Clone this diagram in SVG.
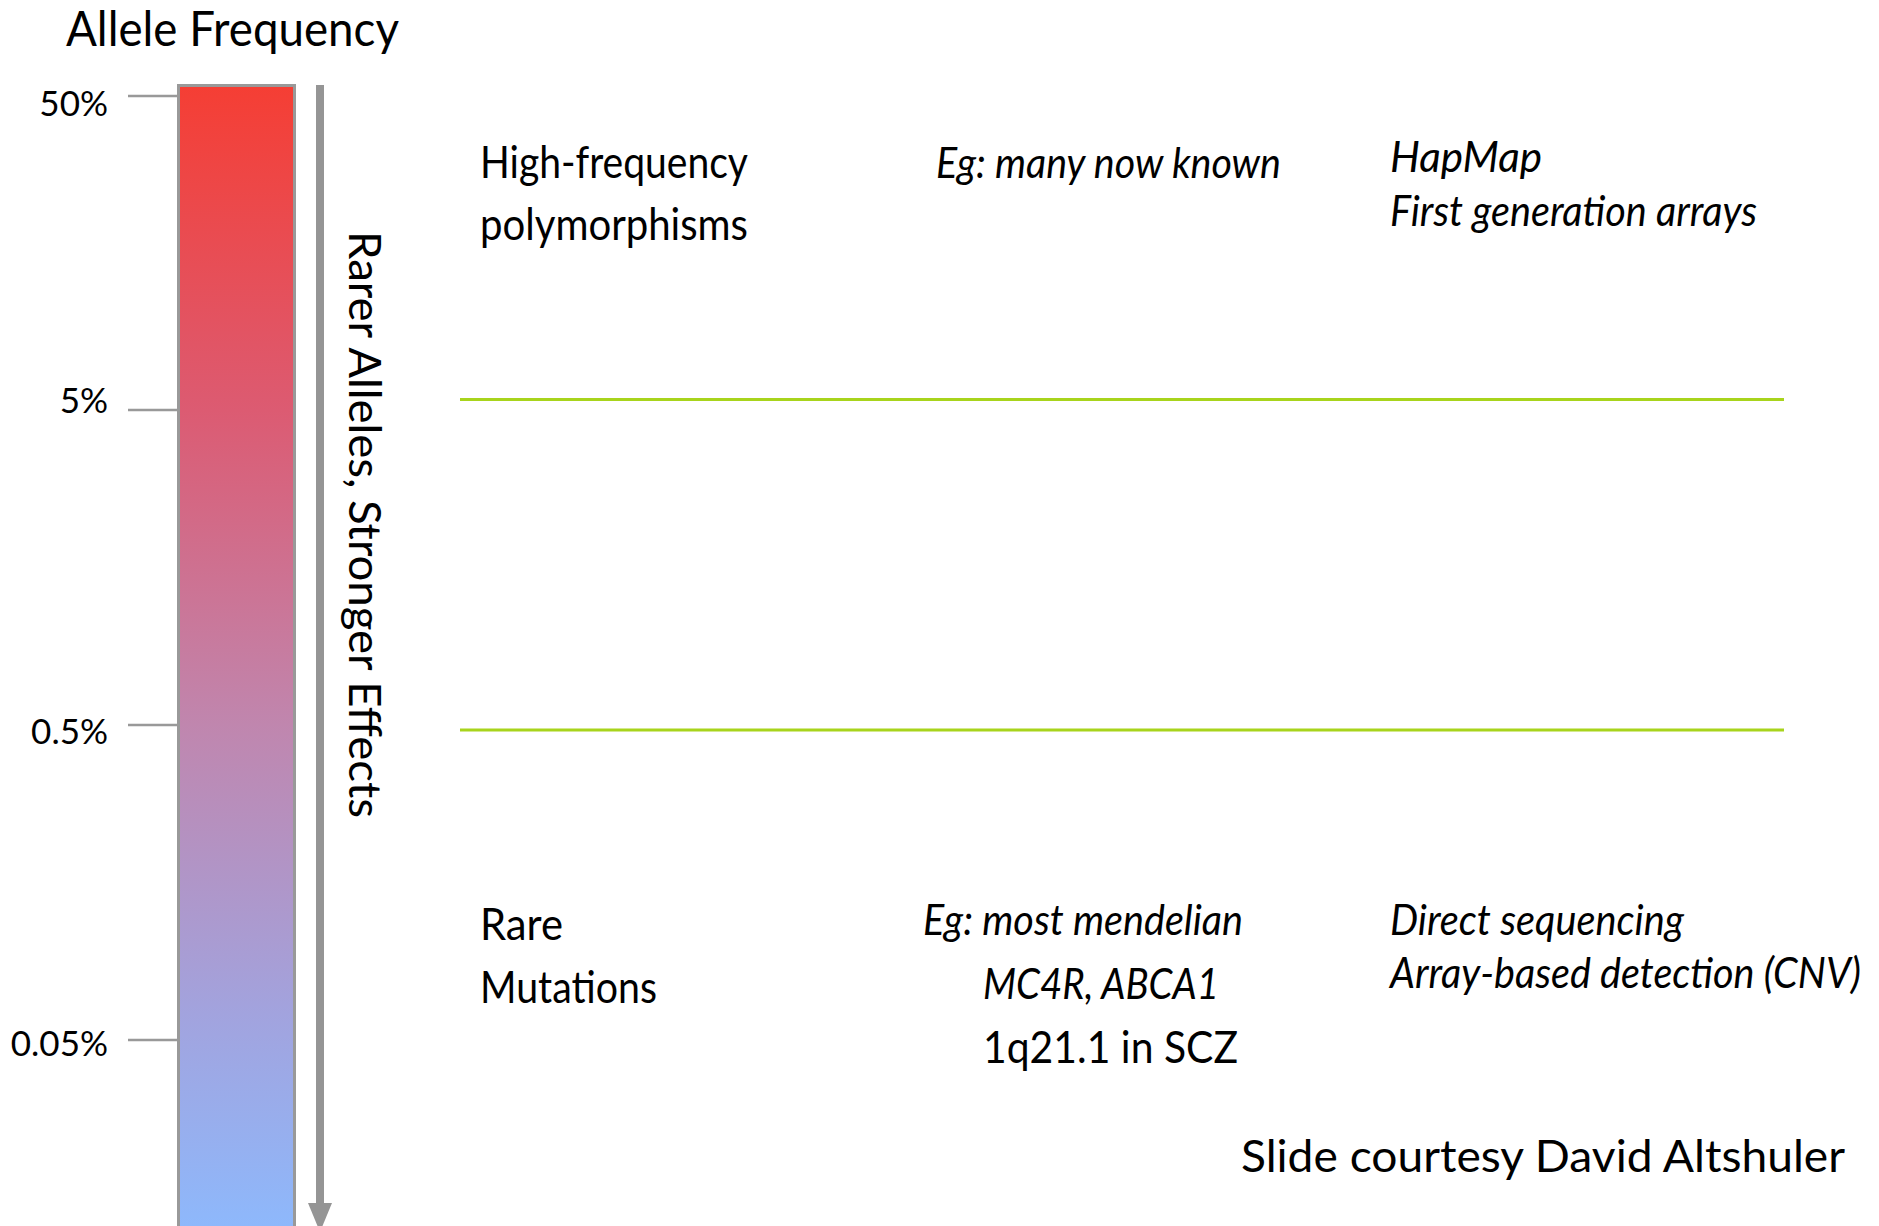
<svg xmlns="http://www.w3.org/2000/svg" width="1879" height="1226" viewBox="0 0 1879 1226">
<style>
text{font-family:Lato,"Open Sans","Liberation Sans",sans-serif;fill:#000}
.t{font-size:44px}
.i{font-size:42px;font-style:italic}
.tick{font-size:35px;text-anchor:end}
.tk{stroke:#999;stroke-width:2.5}
.sep{stroke:#a8d41c;stroke-width:3}
</style>
<defs>
<linearGradient id="g" x1="0" y1="0" x2="0" y2="1">
<stop offset="0" stop-color="#f53e34"/>
<stop offset="0.28" stop-color="#dc5b72"/>
<stop offset="0.55" stop-color="#c086ae"/>
<stop offset="0.8" stop-color="#a2a3de"/>
<stop offset="1" stop-color="#8cbafe"/>
</linearGradient>
</defs>
<g id="title"><text x="66" y="46" style="font-size:48px" textLength="333" lengthAdjust="spacingAndGlyphs">Allele Frequency</text></g>
<g id="scale">
<rect x="178.5" y="85.5" width="116" height="1160" fill="url(#g)" stroke="#999" stroke-width="3"/>
<line class="tk" x1="128" y1="96" x2="177" y2="96"/>
<line class="tk" x1="128" y1="410" x2="177" y2="410"/>
<line class="tk" x1="128" y1="725" x2="177" y2="725"/>
<line class="tk" x1="128" y1="1040" x2="177" y2="1040"/>
<text class="tick" x="108" y="116">50%</text>
<text class="tick" x="108" y="413">5%</text>
<text class="tick" x="108" y="744">0.5%</text>
<text class="tick" x="108" y="1056">0.05%</text>
</g>
<g id="connectors">
<line x1="320" y1="85" x2="320" y2="1206" stroke="#959595" stroke-width="8"/>
<polygon points="308,1203 332,1203 320,1232" fill="#959595"/>
<line class="sep" x1="460" y1="399.5" x2="1784" y2="399.5"/>
<line class="sep" x1="460" y1="730" x2="1784" y2="730"/>
</g>
<g id="axis-label"><text transform="translate(349,231) rotate(90)" style="font-size:44px" textLength="587" lengthAdjust="spacingAndGlyphs">Rarer Alleles, Stronger Effects</text></g>
<g id="common">
<text class="t" x="480" y="178" textLength="268" lengthAdjust="spacingAndGlyphs">High-frequency</text>
<text class="t" x="480" y="240" textLength="268" lengthAdjust="spacingAndGlyphs">polymorphisms</text>
<text class="i" x="936" y="178" textLength="345" lengthAdjust="spacingAndGlyphs">Eg: many now known</text>
<text class="i" x="1390" y="172" textLength="152" lengthAdjust="spacingAndGlyphs">HapMap</text>
<text class="i" x="1390" y="226" textLength="367" lengthAdjust="spacingAndGlyphs">First generation arrays</text>
</g>
<g id="rare">
<text class="t" x="480" y="940" textLength="83" lengthAdjust="spacingAndGlyphs">Rare</text>
<text class="t" x="480" y="1003" textLength="177" lengthAdjust="spacingAndGlyphs">Mutations</text>
<text class="i" x="923" y="935" textLength="320" lengthAdjust="spacingAndGlyphs">Eg: most mendelian</text>
<text class="i" x="983" y="999" textLength="236" lengthAdjust="spacingAndGlyphs">MC4R, ABCA1</text>
<text class="t" x="983" y="1063" textLength="255" lengthAdjust="spacingAndGlyphs">1q21.1 in SCZ</text>
<text class="i" x="1390" y="935" textLength="294" lengthAdjust="spacingAndGlyphs">Direct sequencing</text>
<text class="i" x="1390" y="988" textLength="471" lengthAdjust="spacingAndGlyphs">Array-based detection (CNV)</text>
</g>
<g id="credit"><text class="t" x="1241" y="1172" textLength="604" lengthAdjust="spacingAndGlyphs">Slide courtesy David Altshuler</text></g>
</svg>
